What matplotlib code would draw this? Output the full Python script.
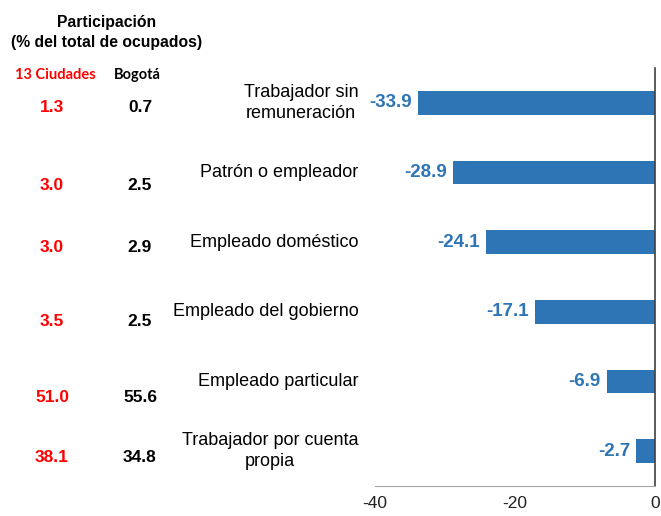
import matplotlib.pyplot as plt

# Data (top to bottom)
categories = ["Trabajador sin\nremuneración", "Patrón o empleador", "Empleado doméstico",
              "Empleado del gobierno", "Empleado particular", "Trabajador por cuenta\npropia"]
variation = [-33.9, -28.9, -24.1, -17.1, -6.9, -2.7]
share_13 = ["1.3", "3.0", "3.0", "3.5", "51.0", "38.1"]
share_bog = ["0.7", "2.5", "2.9", "2.5", "55.6", "34.8"]
xticks = [-40, -20, 0]

plt.rcParams['font.family'] = ['Liberation Sans', 'DejaVu Sans']

W, H = 661, 516
fig = plt.figure(figsize=(W / 100, H / 100), dpi=100)
ax = fig.add_axes([375 / W, 1 - 486 / H, 280 / W, 418 / H])

blue = "#2E75B6"
ypos = list(range(len(categories)))
ax.barh(ypos, variation, height=0.34, color=blue)
ax.set_ylim(len(categories) - 0.5, -0.5)
ax.set_xlim(-40, 0)
ax.set_xticks(xticks)
ax.set_xticklabels([str(t) for t in xticks], fontsize=12.5, color="#222222")
ax.tick_params(axis="x", length=0, pad=7)
ax.set_yticks([])

for s in ["top", "left"]:
    ax.spines[s].set_visible(False)
ax.spines["bottom"].set_color("#A6A6A6")
ax.spines["right"].set_color("#404040")
ax.spines["right"].set_linewidth(1.2)

for y, v, c in zip(ypos, variation, categories):
    ax.text(v - 0.85, y, f"{v:.1f}", ha="right", va="center", fontsize=13.5,
            fontweight="bold", color=blue)
    ax.annotate(c, xy=(0, y), xycoords=("axes fraction", "data"), xytext=(-12, 0),
                textcoords="offset points", ha="right", va="center",
                multialignment="center", fontsize=13, color="black", linespacing=1.3)

# Left table
fig.text(107 / W, 1 - 22 / H, "Participación", ha="center", va="center",
         fontsize=11.3, fontweight="bold")
fig.text(107 / W, 1 - 43 / H, "(% del total de ocupados)", ha="center", va="center",
         fontsize=11.3, fontweight="bold")
fig.text(55 / W, 1 - 75 / H, "13 Ciudades", ha="center", va="center",
         fontsize=10.5, fontweight="bold", color="#FF0000", family=["Lato", "DejaVu Sans"])
fig.text(137 / W, 1 - 75 / H, "Bogotá", ha="center", va="center",
         fontsize=10.5, fontweight="bold", color="black", family=["Lato", "DejaVu Sans"])

row_y = [108, 185, 247, 321, 397, 458]
for ry, a, b in zip(row_y, share_13, share_bog):
    fig.text(52 / W, 1 - ry / H, a, ha="center", va="center", fontsize=12.5,
             fontweight="bold", color="#FF0000")
    fig.text(140 / W, 1 - ry / H, b, ha="center", va="center", fontsize=12.5,
             fontweight="bold", color="black")

fig.savefig("out.png", dpi=100)
